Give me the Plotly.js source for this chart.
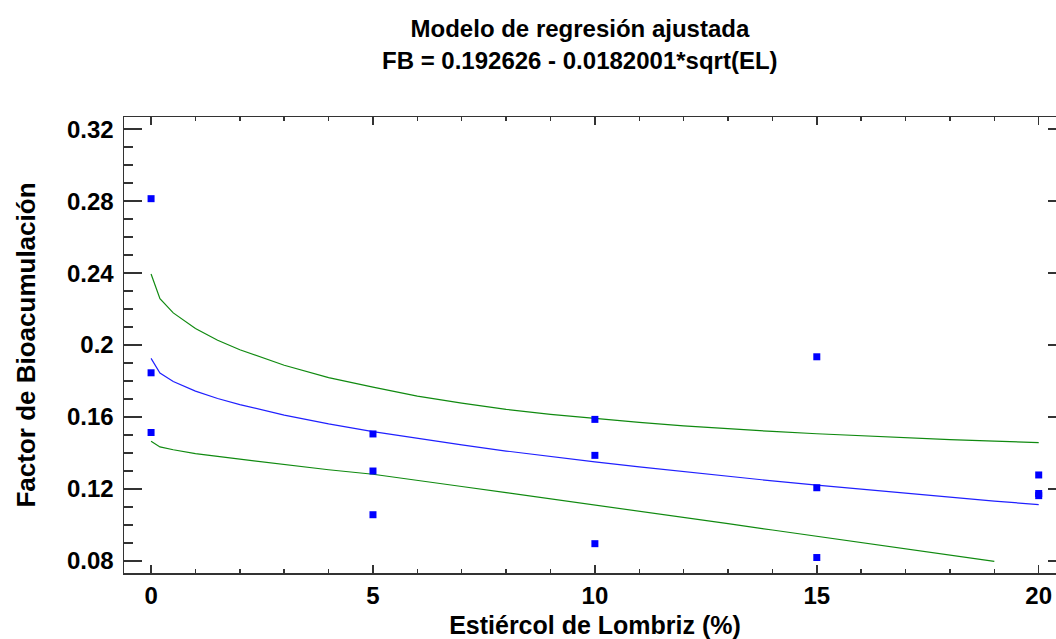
<!DOCTYPE html>
<html>
<head>
<meta charset="utf-8">
<script src="https://cdn.plot.ly/plotly-3.0.1.min.js"></script>
<style>html,body{margin:0;padding:0;background:#fff;overflow:hidden;}#chart{width:1066px;height:639px;}</style>
</head>
<body>
<div id="chart"></div>
<script>
// Observed data (Estiércol de Lombriz % vs Factor de Bioacumulación)
const obsX = [0, 0, 0, 5, 5, 5, 10, 10, 10, 15, 15, 15, 20, 20, 20];
const obsY = [0.2814, 0.1846, 0.1514, 0.1506, 0.1300, 0.1057, 0.1587, 0.1387, 0.0896, 0.1935, 0.1207, 0.0819, 0.1278, 0.1175, 0.1163];

// Curves
const curveX   = [0, 0.2, 0.5, 1, 1.5, 2, 3, 4, 5, 6, 7, 8, 9, 10, 11, 12, 13, 14, 15, 16, 17, 18, 19, 20];
const fitY     = [0.1926, 0.1845, 0.1798, 0.1744, 0.1703, 0.1669, 0.1611, 0.1562, 0.1519, 0.1480, 0.1445, 0.1411, 0.1380, 0.1351, 0.1323, 0.1296, 0.1270, 0.1245, 0.1221, 0.1198, 0.1176, 0.1154, 0.1133, 0.1113];
const upperY   = [0.2395, 0.2258, 0.2179, 0.2092, 0.2027, 0.1974, 0.1888, 0.1819, 0.1766, 0.1716, 0.1677, 0.1643, 0.1615, 0.1591, 0.1570, 0.1551, 0.1534, 0.1520, 0.1507, 0.1495, 0.1485, 0.1475, 0.1466, 0.1458];
const lowerX   = [0, 0.2, 0.5, 1, 1.5, 2, 3, 4, 5, 6, 7, 8, 9, 10, 11, 12, 13, 14, 15, 16, 17, 18, 19];
const lowerY   = [0.1465, 0.1434, 0.1418, 0.1397, 0.1381, 0.1366, 0.1336, 0.1307, 0.1282, 0.1246, 0.1214, 0.1180, 0.1146, 0.1113, 0.1078, 0.1042, 0.1007, 0.0972, 0.0937, 0.0902, 0.0867, 0.0833, 0.0798];

// Tick labels
const xTickVals = [0, 5, 10, 15, 20];
const xTickText = ['0', '5', '10', '15', '20'];
const yTickVals = [0.08, 0.12, 0.16, 0.2, 0.24, 0.28, 0.32];
const yTickText = ['0.08', '0.12', '0.16', '0.2', '0.24', '0.28', '0.32'];

const FONT = 'Liberation Sans, Arial, sans-serif';

const traces = [
  {x: curveX, y: upperY, mode: 'lines', line: {color: '#108a10', width: 1.2}, hoverinfo: 'skip'},
  {x: lowerX, y: lowerY, mode: 'lines', line: {color: '#108a10', width: 1.2}, hoverinfo: 'skip'},
  {x: curveX, y: fitY, mode: 'lines', line: {color: '#2020ff', width: 1.2}, hoverinfo: 'skip'},
  {x: obsX, y: obsY, mode: 'markers', marker: {symbol: 'square', size: 7, color: '#0000ff', line: {width: 0}}}
];

const layout = {
  width: 1066, height: 639,
  paper_bgcolor: '#ffffff', plot_bgcolor: '#ffffff',
  showlegend: false,
  margin: {l: 124, r: 0, t: 117, b: 66},
  font: {family: FONT, color: '#000'},
  title: {
    text: 'Modelo de regresión ajustada',
    font: {family: FONT, size: 24, weight: 'bold', color: '#000'},
    xref: 'paper', x: 0.484, xanchor: 'center',
    yref: 'container', y: 1 - 29/639, yanchor: 'middle'
  },
  annotations: [{
    text: 'FB = 0.192626 - 0.0182001*sqrt(EL)',
    xref: 'paper', x: 0.484, xanchor: 'center',
    yref: 'paper', y: 1 + (117 - 60)/456, yanchor: 'middle',
    showarrow: false,
    font: {family: FONT, size: 24, weight: 'bold', color: '#000'}
  }],
  xaxis: {
    range: [-0.61, 20.615],
    tickmode: 'array', tickvals: xTickVals, ticktext: xTickText,
    ticks: 'inside', ticklen: 8, tickwidth: 1.5, tickcolor: '#333',
    minor: {tickmode: 'linear', tick0: 0, dtick: 1, ticks: 'inside', ticklen: 4, tickwidth: 1.5, tickcolor: '#333'},
    showline: true, linecolor: '#333', linewidth: 1.5, mirror: 'ticks',
    showgrid: false, zeroline: false,
    tickfont: {family: FONT, size: 24, weight: 'bold', color: '#000'},
    ticklabelstandoff: 1,
    title: {text: 'Estiércol de Lombriz (%)', font: {family: FONT, size: 25, weight: 'bold', color: '#000'}, standoff: 8}
  },
  yaxis: {
    range: [0.0733, 0.3268],
    tickmode: 'array', tickvals: yTickVals, ticktext: yTickText,
    ticks: 'inside', ticklen: 18, tickwidth: 1.5, tickcolor: '#333',
    minor: {tickmode: 'linear', tick0: 0.08, dtick: 0.01, ticks: 'inside', ticklen: 9, tickwidth: 1.5, tickcolor: '#333'},
    showline: true, linecolor: '#333', linewidth: 1.5, mirror: 'ticks',
    showgrid: false, zeroline: false,
    tickfont: {family: FONT, size: 24, weight: 'bold', color: '#000'},
    ticklabelstandoff: 4,
    title: {text: 'Factor de Bioacumulación', font: {family: FONT, size: 26, weight: 'bold', color: '#000'}, standoff: 24}
  }
};

Plotly.newPlot('chart', traces, layout, {displayModeBar: false, staticPlot: true});
</script>
</body>
</html>
